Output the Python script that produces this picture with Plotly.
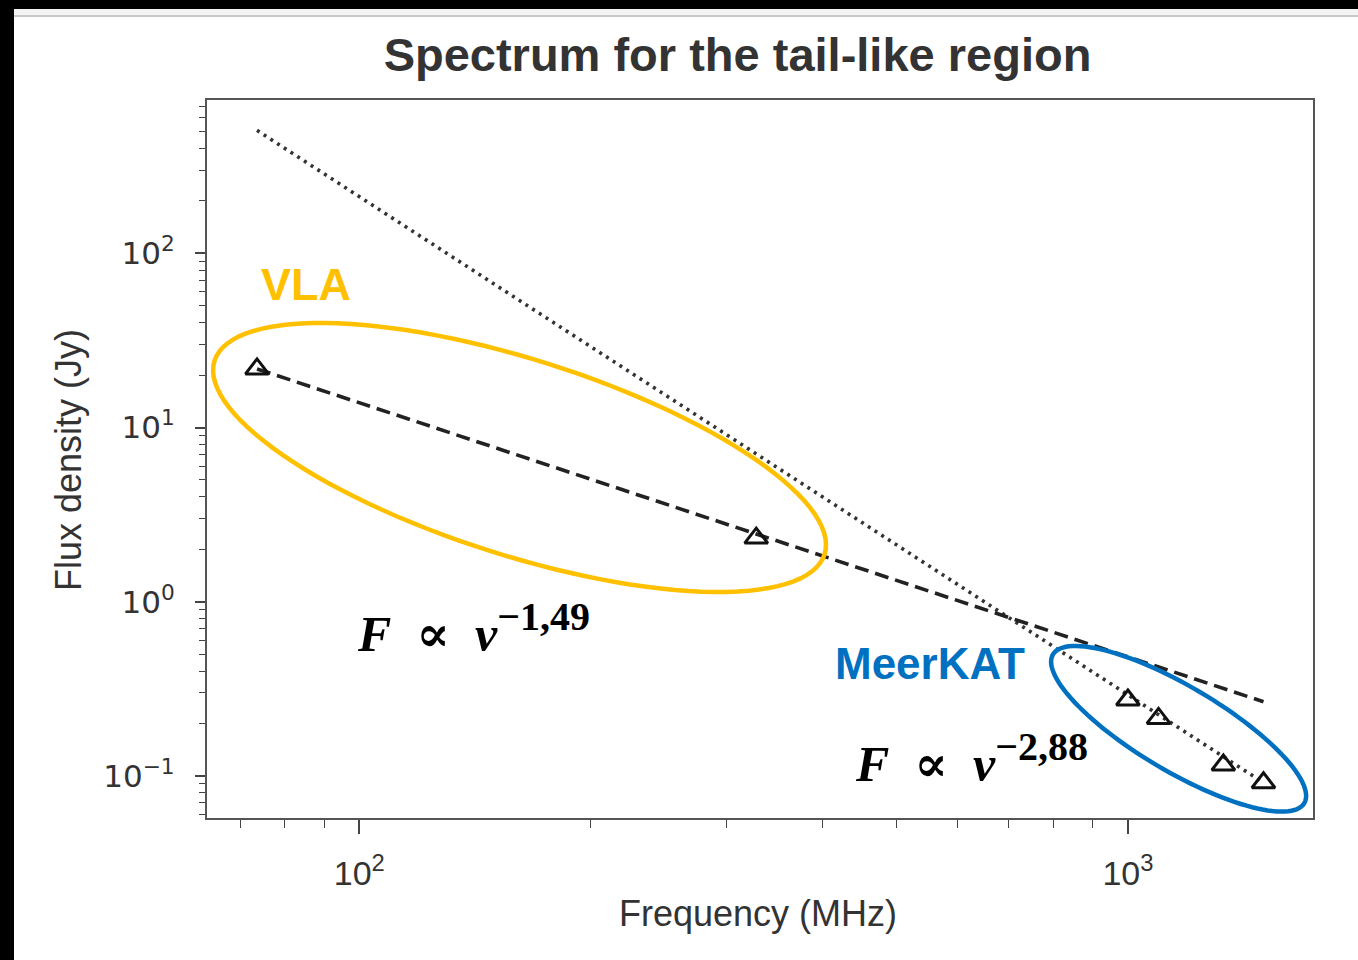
import numpy as np
import plotly.graph_objects as go

# ---------------- data ----------------
vla_freq = [73.6, 328.4]          # MHz
vla_flux = [21.7, 2.32]           # Jy
mk_freq = [1000, 1096, 1331, 1501]
mk_flux = [0.273, 0.214, 0.1156, 0.0915]

# fitted power laws (end points)
fit_vla_freq = [73.6, 1501]
fit_vla_flux = [21.7, 0.267]
fit_mk_freq = [73.6, 1501]
fit_mk_flux = [508, 0.0915]

x_tickvals = [100, 1000]
x_ticktext = ["10<sup>2</sup>", "10<sup>3</sup>"]
y_tickvals = [0.1, 1, 10, 100]
y_ticktext = ["10<sup>−1</sup>", "10<sup>0</sup>", "10<sup>1</sup>", "10<sup>2</sup>"]

# ---------------- layout constants ----------------
W, H = 1358, 960
ML, MR, MT, MB = 207, 45, 100, 142
XR = [1.8018, 3.2408]
YR = [-1.2411, 2.880]
PW, PH = W - ML - MR, H - MT - MB
PX_DEC_X = PW / (XR[1] - XR[0])
PX_DEC_Y = PH / (YR[1] - YR[0])


def ellipse_path(cf, cs, a, b, ang_deg, n=120):
    """rotated ellipse around (cf MHz, cs Jy); a, b, rotation in screen pixels"""
    th = np.deg2rad(ang_deg)
    t = np.linspace(0, 2 * np.pi, n, endpoint=False)
    dx = a * np.cos(t) * np.cos(th) - b * np.sin(t) * np.sin(th)
    dy = a * np.cos(t) * np.sin(th) + b * np.sin(t) * np.cos(th)  # screen down
    lx = np.log10(cf) + dx / PX_DEC_X
    ly = np.log10(cs) - dy / PX_DEC_Y
    pts = [f"{10**x:.6g},{10**y:.6g}" for x, y in zip(lx, ly)]
    return "M" + " L".join(pts) + " Z"


fig = go.Figure()

fig.add_trace(go.Scatter(x=fit_mk_freq, y=fit_mk_flux, mode="lines",
                         line=dict(color="#333333", width=3.6, dash="3px,5px"),
                         showlegend=False))
fig.add_trace(go.Scatter(x=fit_vla_freq, y=fit_vla_flux, mode="lines",
                         line=dict(color="#222222", width=3.6, dash="14px,7px"),
                         showlegend=False))
fig.add_trace(go.Scatter(x=vla_freq + mk_freq, y=vla_flux + mk_flux, mode="markers",
                         marker=dict(symbol="triangle-up-open", size=20,
                                     color="#111111", line=dict(width=3, color="#111111")),
                         showlegend=False))

shapes = [
    dict(type="path", xref="x", yref="y",
         path=ellipse_path(161.6, 6.73, 320, 98, 17.6),
         line=dict(color="#FFC000", width=4.5)),
    dict(type="path", xref="x", yref="y",
         path=ellipse_path(1164, 0.1866, 146, 42.5, 30.6),
         line=dict(color="#0070C0", width=4.5)),
]
# screenshot frame (black edges, grey strip)
def px_to_paper_x(p):
    return (p - ML) / PW
def px_to_paper_y(p):
    return (H - MB - p) / PH

shapes += [
    dict(type="rect", xref="paper", yref="paper", layer="above",
         x0=px_to_paper_x(0), x1=px_to_paper_x(1358), y0=px_to_paper_y(9), y1=px_to_paper_y(0),
         fillcolor="black", line=dict(width=0)),
    dict(type="rect", xref="paper", yref="paper", layer="above",
         x0=px_to_paper_x(0), x1=px_to_paper_x(1358), y0=px_to_paper_y(15), y1=px_to_paper_y(9),
         fillcolor="#f3f3f3", line=dict(width=0)),
    dict(type="rect", xref="paper", yref="paper", layer="above",
         x0=px_to_paper_x(0), x1=px_to_paper_x(1358), y0=px_to_paper_y(17), y1=px_to_paper_y(15),
         fillcolor="#c8c8c8", line=dict(width=0)),
    dict(type="rect", xref="paper", yref="paper", layer="above",
         x0=px_to_paper_x(0), x1=px_to_paper_x(14), y0=px_to_paper_y(960), y1=px_to_paper_y(0),
         fillcolor="black", line=dict(width=0)),
]

narrow = "Liberation Sans Narrow, Arial Narrow, Liberation Sans, Arial, sans-serif"
serif = "Liberation Serif, Times New Roman, DejaVu Serif, serif"
f1 = ('<b><i>F</i>&nbsp; ∝ &nbsp;<i>ν</i></b><sup><b><span style="font-size:40px">−1,49</span></b></sup>')
f2 = ('<b><i>F</i>&nbsp; ∝ &nbsp;<i>ν</i></b><sup><b><span style="font-size:40px">−2,88</span></b></sup>')
annotations = [
    dict(text="VLA", xref="x", yref="y", x=1.9306, y=1.8186, showarrow=False,
         font=dict(family="Liberation Sans, Arial", size=45, color="#FFC000", weight="bold"),
         xanchor="center", yanchor="middle"),
    dict(text="MeerKAT", xref="x", yref="y", x=2.7427, y=-0.357, showarrow=False,
         font=dict(family="Liberation Sans, Arial", size=44, color="#0070C0", weight="bold"),
         xanchor="center", yanchor="middle"),
    dict(text=f1, xref="x", yref="y",
         x=1.9944, y=-0.150, showarrow=False, xanchor="left", yanchor="middle",
         font=dict(family=serif, size=50, color="black")),
    dict(text=f2, xref="x", yref="y",
         x=2.6425, y=-0.8967, showarrow=False, xanchor="left", yanchor="middle",
         font=dict(family=serif, size=50, color="black")),
    dict(text="Flux density (Jy)", xref="paper", yref="paper",
         x=px_to_paper_x(68), y=px_to_paper_y(460), showarrow=False, textangle=-90,
         xanchor="center", yanchor="middle",
         font=dict(family=narrow, size=36, color="#333333")),
    dict(text="Frequency (MHz)", xref="paper", yref="paper",
         x=px_to_paper_x(758), y=px_to_paper_y(913), showarrow=False,
         xanchor="center", yanchor="middle",
         font=dict(family=narrow, size=36, color="#333333")),
]

fig.update_layout(
    width=W, height=H,
    margin=dict(l=ML, r=MR, t=MT, b=MB, autoexpand=False),
    paper_bgcolor="white", plot_bgcolor="white",
    title=dict(text="<b>Spectrum for the tail-like region</b>", xref="paper",
               x=px_to_paper_x(737.5), xanchor="center", yref="container",
               y=1 - 55 / H, yanchor="middle",
               font=dict(family="Liberation Sans, Arial", size=47, color="#333333")),
    shapes=shapes, annotations=annotations, showlegend=False,
)

fig.update_xaxes(type="log", range=XR, showgrid=False, zeroline=False,
                 showline=True, mirror=True, linecolor="#555555", linewidth=2.2,
                 ticks="outside", ticklen=14, tickwidth=1.6, tickcolor="#444444",
                 tickvals=x_tickvals, ticktext=x_ticktext, ticklabelstandoff=10,
                 tickfont=dict(family=narrow, size=34, color="#333333"),
                 minor=dict(ticks="outside", ticklen=8, tickwidth=1.3, tickcolor="#444444",
                            dtick="D1", showgrid=False))
fig.update_yaxes(type="log", range=YR, showgrid=False, zeroline=False,
                 showline=True, mirror=True, linecolor="#555555", linewidth=2.2,
                 ticks="outside", ticklen=10, tickwidth=1.6, tickcolor="#444444",
                 tickvals=y_tickvals, ticktext=y_ticktext, ticklabelstandoff=14,
                 tickfont=dict(family="DejaVu Sans", size=31, color="#333333"),
                 minor=dict(ticks="outside", ticklen=6, tickwidth=1.3, tickcolor="#444444",
                            dtick="D1", showgrid=False))

fig.write_html("out.html")
